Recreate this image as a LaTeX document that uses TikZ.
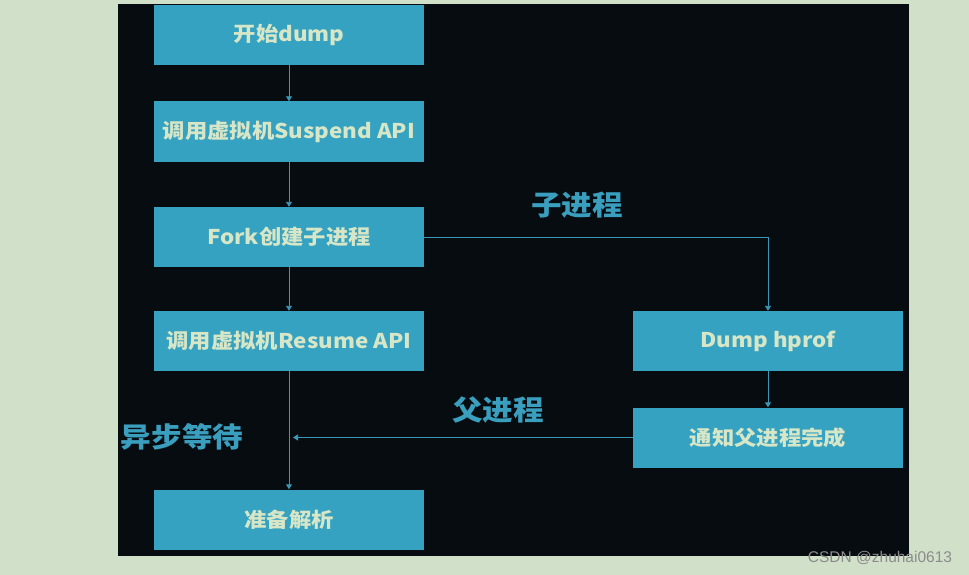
\documentclass[tikz,border=0pt]{standalone}
\usepackage{fontspec}
\setmainfont{Noto Sans CJK SC}[FakeStretch=1.1]
\newfontfamily\wmfont{Liberation Sans}
\usetikzlibrary{arrows.meta}
\definecolor{bgc}{HTML}{D1E0C8}
\definecolor{panel}{HTML}{060C10}
\definecolor{boxc}{HTML}{36A2C1}
\definecolor{boxtxt}{HTML}{D6E6C6}
\definecolor{lbl}{HTML}{3A9EBE}
\definecolor{linec}{HTML}{3A98B6}
\definecolor{wmc}{HTML}{8C8C8C}
\begin{document}
\begin{tikzpicture}[x=1pt,y=-1pt,
  box/.style={fill=boxc, draw=none, minimum width=270pt, minimum height=60pt, inner sep=0pt,
    text=boxtxt, font=\bfseries\fontsize{20.3}{20.3}\selectfont},
  lab/.style={text=lbl, inner sep=0pt, font=\bfseries\fontsize{27.8}{27.8}\selectfont},
  conn/.style={draw=linec, line width=0.9pt, -{Triangle[length=5pt,width=6pt]}}]
\useasboundingbox (0,0) rectangle (969,575);
\fill[bgc] (0,0) rectangle (969,575);
\fill[panel] (118,4) rectangle (909,556);
\node[box] (b1) at (289,35) {开始dump};
\node[box] (b2) at (289,131.5) {调用虚拟机Suspend API};
\node[box] (b3) at (289,237) {Fork创建子进程};
\node[box] (b4) at (289,341) {调用虚拟机Resume API};
\node[box] (b5) at (289,519.5) {准备解析};
\node[box] (r1) at (768,341) {Dump hprof};
\node[box] (r2) at (768,437.5) {通知父进程完成};
\coordinate (wait) at (293,437.5);
\draw[conn] (b1) -- (b2);
\draw[conn] (b2) -- (b3);
\draw[conn] (b3) -- (b4);
\draw[conn] (b4) -- (b5);
\draw[conn] (b3.east) -| (r1.north);
\draw[conn] (r1) -- (r2);
\draw[conn] (r2.west) -- (wait);
\node[lab] (l1) at (577,205) {子进程};
\node[lab] (l2) at (498,410) {父进程};
\node[lab] (l3) at (182,437) {异步等待};
\node[text=wmc, inner sep=0pt, font=\wmfont\fontsize{15.5}{15.5}\selectfont] (wm) at (880,558) {CSDN @zhuhai0613};
\end{tikzpicture}
\end{document}
